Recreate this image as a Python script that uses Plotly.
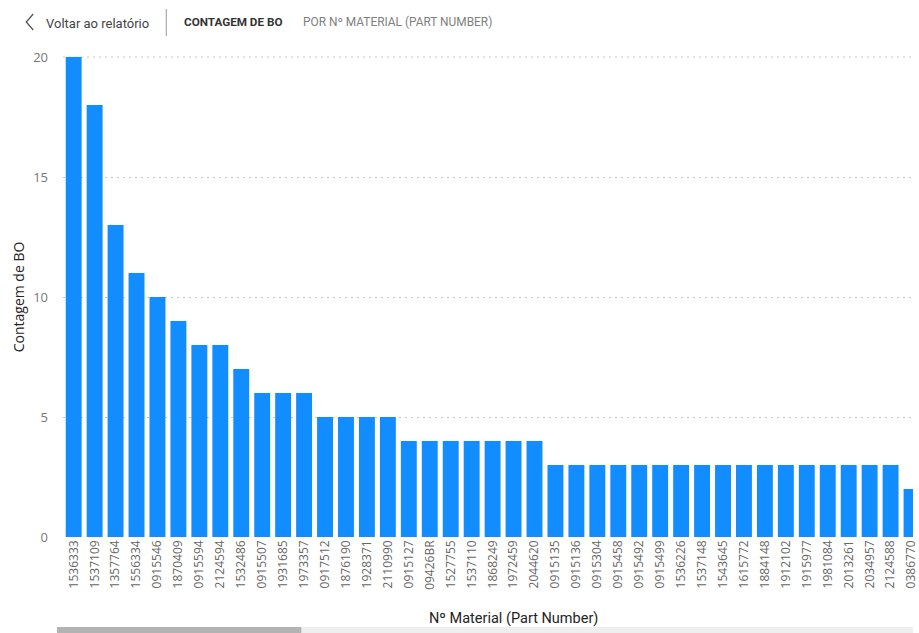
import plotly.graph_objects as go

part_numbers = [
    "1536333", "1537109", "1357764", "1556334", "0915546", "1870409", "0915594",
    "2124594", "1532486", "0915507", "1931685", "1973357", "0917512", "1876190",
    "1928371", "2110990", "0915127", "09426BR", "1527755", "1537110", "1868249",
    "1972459", "2044620", "0915135", "0915136", "0915304", "0915458", "0915492",
    "0915499", "1536226", "1537148", "1543645", "1615772", "1884148", "1912102",
    "1915977", "1981084", "2013261", "2034957", "2124588", "0386770",
]
bo_counts = [
    20, 18, 13, 11, 10, 9, 8,
    8, 7, 6, 6, 6, 5, 5,
    5, 5, 4, 4, 4, 4, 4,
    4, 4, 3, 3, 3, 3, 3,
    3, 3, 3, 3, 3, 3, 3,
    3, 3, 3, 3, 3, 2,
]
y_ticks = [0, 5, 10, 15, 20]

W, H = 919, 633
L, R, T, B = 63, 0, 57, 96
PW, PH = W - L - R, H - T - B


def px(x):
    return (x - L) / PW


def py(y):
    return (H - B - y) / PH


fig = go.Figure(
    go.Bar(
        x=part_numbers,
        y=bo_counts,
        marker=dict(color="#118DFF", line=dict(width=0)),
    )
)

fig.update_layout(
    width=W,
    height=H,
    margin=dict(l=L, r=R, t=T, b=B),
    paper_bgcolor="white",
    plot_bgcolor="white",
    bargap=0.24,
    showlegend=False,
    font=dict(family="Open Sans", color="#666666"),
)

fig.update_xaxes(
    type="category",
    range=[-0.51, 40.07],
    tickangle=-90,
    tickfont=dict(size=12, color="#666666"),
    showgrid=False,
    showline=False,
    zeroline=False,
    ticks="",
)
fig.update_yaxes(
    range=[0, 20],
    tickvals=y_ticks,
    tickfont=dict(size=13, color="#777777"),
    showgrid=True,
    gridcolor="#c8c8c8",
    griddash="2px,4px",
    gridwidth=1,
    zeroline=False,
    showline=False,
    ticks="",
    ticklabelstandoff=14,
)

annotations = [
    dict(text="Contagem de BO", x=px(18), y=0.5, textangle=-90,
         font=dict(size=14, color="#252423", family="Open Sans")),
    dict(text="Nº Material (Part Number)", x=px(517), y=py(618),
         font=dict(size=14.5, color="#252423", family="Roboto")),
    dict(text="Voltar ao relatório", x=px(44), y=py(23), xanchor="left",
         font=dict(size=13, color="#444444", family="Roboto")),
    dict(text="<b>CONTAGEM DE BO</b>", x=px(183), y=py(22), xanchor="left",
         font=dict(size=11.7, color="#333333", family="Roboto")),
    dict(text="POR Nº MATERIAL (PART NUMBER)", x=px(303), y=py(22), xanchor="left",
         font=dict(size=11.9, color="#808080", family="Roboto")),
]
for a in annotations:
    a.setdefault("xanchor", "center")
    a.update(xref="paper", yref="paper", yanchor="middle", showarrow=False)
fig.update_layout(annotations=annotations)

shapes = [
    # top gridline at 20
    dict(type="line", x0=0, x1=1, y0=1, y1=1,
         line=dict(color="#c8c8c8", width=1, dash="2px,4px"), layer="below"),
    # back chevron
    dict(type="path", path=f"M {px(33)} {py(14)} L {px(26)} {py(22)} L {px(33)} {py(30)}",
         line=dict(color="#555555", width=1.3)),
    # divider
    dict(type="line", x0=px(167), x1=px(167), y0=py(9), y1=py(36),
         line=dict(color="#9a9a9a", width=1)),
    # scrollbar track
    dict(type="rect", x0=px(57), x1=px(919), y0=py(627), y1=py(633),
         fillcolor="#eeeeee", line=dict(width=0), layer="above"),
    # scrollbar thumb
    dict(type="rect", x0=px(57), x1=px(303), y0=py(627), y1=py(633),
         fillcolor="#b3b3b3", line=dict(width=0), layer="above"),
]
for s in shapes:
    s.update(xref="paper", yref="paper")
fig.update_layout(shapes=shapes)

fig.write_html("out.html", config={"displayModeBar": False})
